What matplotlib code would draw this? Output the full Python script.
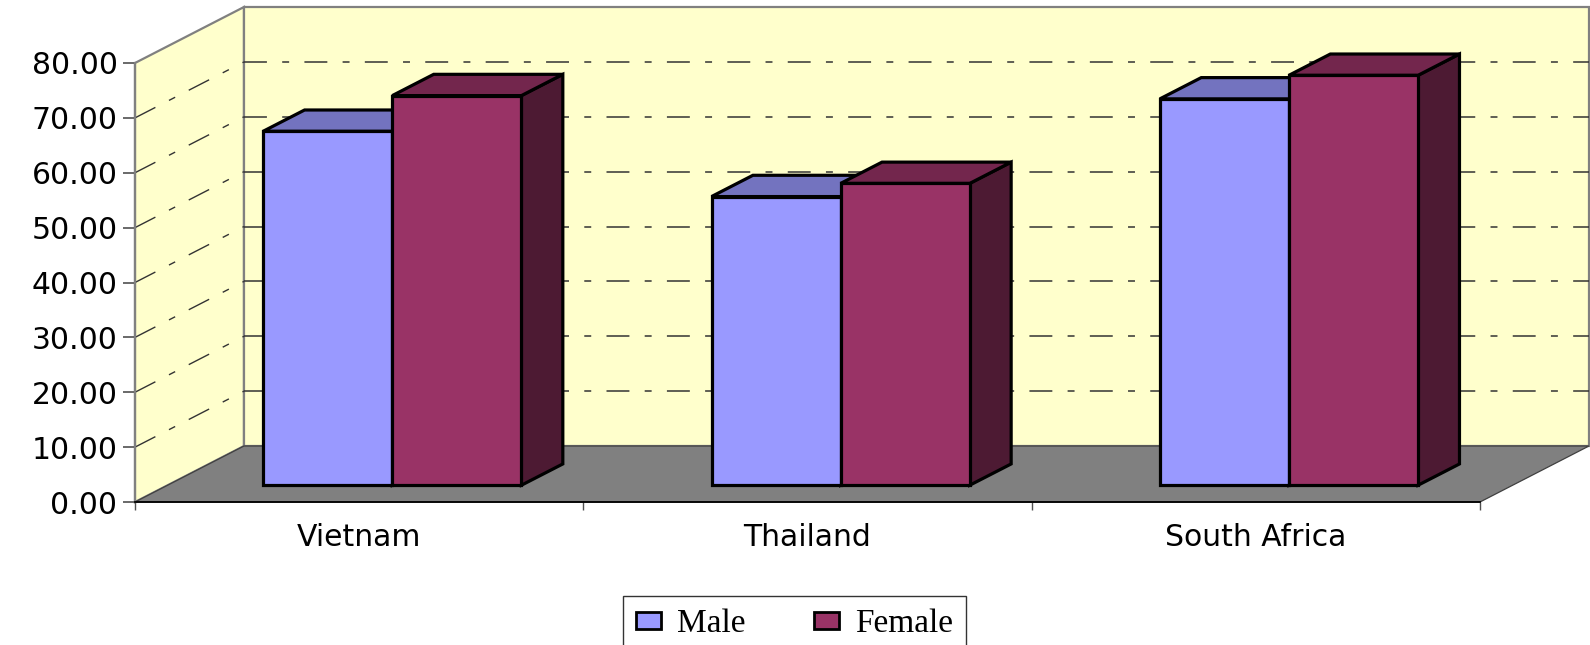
import matplotlib
matplotlib.use("Agg")
import matplotlib.pyplot as plt
from matplotlib.patches import Polygon, Patch
from matplotlib.lines import Line2D

plt.rcParams['lines.scale_dashes'] = False

# ---- data ----
categories = ["Vietnam", "Thailand", "South Africa"]
series_names = ["Male", "Female"]
male = [64.5, 52.6, 70.4]
female = [71.0, 55.0, 74.7]
yticks = [0, 10, 20, 30, 40, 50, 60, 70, 80]
ytick_labels = ["%.2f" % v for v in yticks]

# ---- style ----
front_cols = ["#9999FF", "#993366"]
top_cols = ["#7373BF", "#73264D"]
side_cols = ["#4D4D80", "#4D1A33"]
wall_col = "#FFFFCC"
floor_col = "#808080"
edge_grey = "#808080"
DX, DY = 0.243, 10.2      # depth vector (category units, value units)
D0, D1 = 0.30, 0.68       # bar depth range
BAR_W = 0.288
GROUP_OFF = 0.213
DASH = (0, (16.5, 11, 5, 11))

W, H = 1590, 645
fig = plt.figure(figsize=(W / 100, H / 100), dpi=100)
ax = fig.add_axes([135 / W, (H - 502) / H, 1345 / W, 439 / H])
ax.set_xlim(0, len(categories))
ax.set_ylim(0, 80)
ax.set_facecolor("none")

n = len(categories)
ymax = yticks[-1]


def P(x, v, d):
    return (x + d * DX, v + d * DY)


def poly(pts, fc, ec, lw, z):
    p = Polygon(pts, closed=True, facecolor=fc, edgecolor=ec, linewidth=lw,
                zorder=z, clip_on=False, joinstyle="miter")
    ax.add_patch(p)


# walls
poly([P(0, 0, 0), P(0, ymax, 0), P(0, ymax, 1), P(0, 0, 1)], wall_col, edge_grey, 1.6, 1)
poly([P(0, 0, 1), P(0, ymax, 1), P(n, ymax, 1), P(n, 0, 1)], wall_col, edge_grey, 1.6, 1)
# floor
poly([P(0, 0, 0), P(n, 0, 0), P(n, 0, 1), P(0, 0, 1)], floor_col, "#404040", 0.9, 2)

# gridlines on back wall and side wall
for v in yticks[1:-1]:
    xa, ya = P(0, v, 1)
    xb, yb = P(n, v, 1)
    ax.add_line(Line2D([xa, xb], [ya, yb], color="#333333", lw=1.1, linestyle=DASH,
                       zorder=1.5, clip_on=False))
    xa, ya = P(0, v, 0)
    ax.add_line(Line2D([xa, xb - n], [ya, yb], color="#333333", lw=1.0, linestyle=DASH,
                       zorder=1.5, clip_on=False))

# bars
for i in range(n):
    for s, vals in enumerate([male, female]):
        h = vals[i]
        x0 = i + GROUP_OFF + s * BAR_W
        x1 = x0 + BAR_W
        lw = 2.3
        poly([P(x1, 0, D0), P(x1, 0, D1), P(x1, h, D1), P(x1, h, D0)], side_cols[s], "black", lw, 5 + s)
        poly([P(x0, h, D0), P(x1, h, D0), P(x1, h, D1), P(x0, h, D1)], top_cols[s], "black", lw, 5 + s)
        poly([P(x0, 0, D0), P(x1, 0, D0), P(x1, h, D0), P(x0, h, D0)], front_cols[s], "black", lw, 5 + s)

# axes / ticks
for side in ["top", "right"]:
    ax.spines[side].set_visible(False)
ax.spines["left"].set_color(edge_grey)
ax.spines["left"].set_linewidth(1.6)
ax.spines["bottom"].set_color("black")
ax.spines["bottom"].set_linewidth(1.3)
ax.spines["bottom"].set_zorder(8)

ax.set_yticks(yticks)
ax.set_yticklabels(ytick_labels, fontsize=21.5, family="DejaVu Sans")
ax.tick_params(axis="y", direction="out", length=8.6, width=1.2, color="#505050", pad=4)

ax.set_xticks(range(n + 1))
ax.set_xticklabels([])
ax.tick_params(axis="x", which="major", direction="out", length=6, width=1.0, color="#505050")
ax.set_xticks([i + 0.5 for i in range(n)], minor=True)
ax.set_xticklabels(categories, minor=True, fontsize=21.5, family="DejaVu Sans")
ax.tick_params(axis="x", which="minor", length=0, pad=15)

# legend
handles = [Patch(facecolor=front_cols[k], edgecolor="black", linewidth=2.0) for k in range(2)]
leg = fig.legend(handles, series_names, loc="upper left",
                 bbox_to_anchor=(623 / W, 0, 343 / W, 1 - 596 / H), mode="expand", ncol=2,
                 prop={"family": "Liberation Serif", "size": 24}, frameon=True, fancybox=False,
                 edgecolor="black", borderpad=0.38, handlelength=0.75, handleheight=0.42,
                 handletextpad=0.5, borderaxespad=0, columnspacing=1.0)
leg.get_frame().set_linewidth(1.0)

fig.savefig("out.png", dpi=100, facecolor="white")
